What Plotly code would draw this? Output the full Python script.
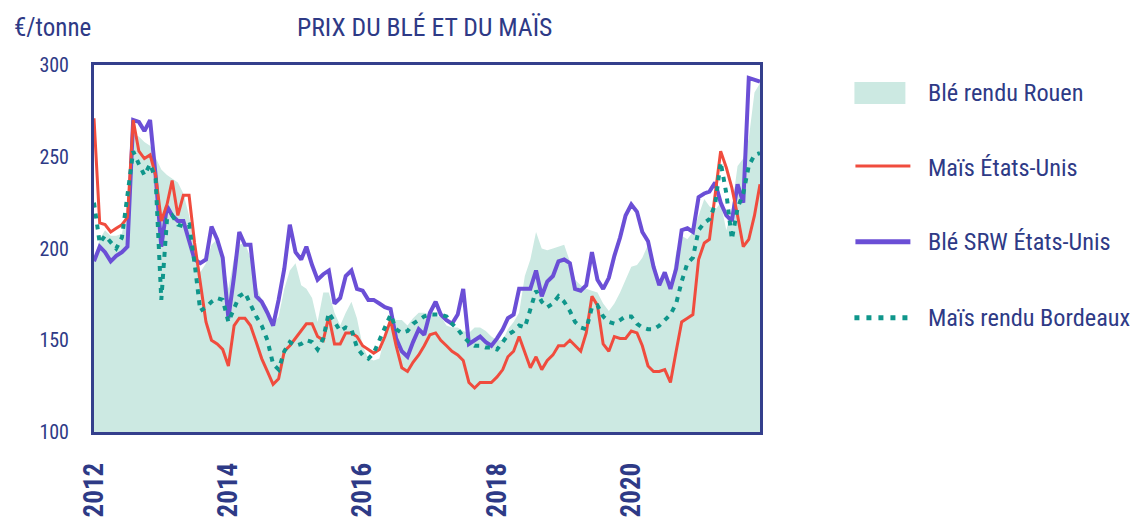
import pandas as pd
import plotly.graph_objects as go

dates = pd.date_range("2012-01-01", periods=120, freq="MS")

ble_rouen = [193, 205, 210, 207, 207, 208, 225, 262, 261, 258, 256, 250,
             243, 240, 238, 236, 230, 218, 202, 187, 192, 202, 205, 196,
             178, 195, 202, 203, 195, 180, 172, 168, 158, 163, 178, 188,
             192, 180, 178, 173, 160, 176, 176, 165, 158, 165, 171, 162,
             147, 140, 139, 140, 152, 163, 161, 161, 158, 162, 165, 165,
             164, 163, 163, 158, 157, 157, 155, 154, 157, 157, 155, 152,
             150, 150, 156, 160, 165, 185, 194, 209, 200, 199, 200, 201,
             202, 193, 183, 180, 178, 177, 176, 170, 166, 170, 176, 183,
             190, 191, 195, 202, 194, 182, 187, 177, 198, 207, 205, 209,
             218, 227, 223, 221, 225, 210, 222, 245, 249, 260, 285, 290]

mais_us = [271, 214, 213, 209, 211, 213, 217, 270, 253, 249, 251, 240,
           215, 224, 237, 218, 229, 229, 203, 180, 160, 150, 148, 145,
           136, 158, 162, 162, 158, 149, 140, 133, 126, 129, 144, 147,
           151, 155, 159, 159, 152, 150, 163, 148, 148, 154, 154, 152,
           147, 145, 143, 145, 152, 161, 147, 135, 133, 138, 142, 147,
           153, 154, 150, 147, 144, 142, 139, 127, 124, 127, 127, 127,
           130, 134, 141, 144, 152, 143, 135, 141, 134, 139, 142, 147,
           147, 150, 147, 144, 154, 174, 169, 148, 144, 152, 151, 151,
           155, 154, 147, 136, 133, 133, 134, 127, 144, 160, 162, 164,
           194, 203, 205, 229, 253, 244, 233, 218, 201, 205, 218, 235]

ble_srw = [193, 201, 198, 193, 196, 198, 201, 270, 269, 264, 270, 240,
           201, 223, 218, 215, 215, 205, 194, 192, 194, 212, 205, 195,
           162, 185, 209, 202, 202, 174, 171, 165, 158, 172, 189, 213,
           198, 194, 201, 191, 183, 186, 188, 170, 173, 185, 188, 178,
           177, 172, 172, 170, 168, 167, 151, 144, 141, 149, 156, 153,
           165, 171, 164, 161, 159, 164, 178, 148, 150, 152, 149, 147,
           151, 156, 162, 164, 178, 178, 178, 188, 174, 182, 185, 193,
           194, 192, 178, 177, 180, 198, 183, 178, 184, 196, 206, 218,
           224, 220, 209, 204, 190, 180, 187, 178, 189, 210, 211, 209,
           228, 230, 231, 236, 225, 218, 215, 235, 225, 293, 292, 291]

mais_bordeaux = [225, 203, 207, 203, 200, 206, 230, 253, 246, 240, 246, 238,
                 172, 216, 218, 213, 212, 213, 192, 166, 168, 171, 173, 172,
                 160, 167, 174, 176, 169, 163, 158, 150, 137, 134, 144, 149,
                 147, 148, 150, 149, 145, 151, 165, 160, 155, 157, 156, 146,
                 142, 140, 143, 150, 157, 164, 156, 154, 155, 159, 161, 163,
                 164, 164, 164, 163, 159, 156, 152, 149, 147, 147, 146, 146,
                 145, 149, 153, 155, 158, 157, 166, 177, 171, 168, 170, 174,
                 171, 166, 160, 157, 156, 168, 169, 163, 160, 159, 161, 163,
                 163, 159, 157, 156, 156, 158, 161, 164, 170, 182, 192, 195,
                 210, 214, 216, 224, 247, 230, 205, 222, 230, 245, 251, 252]

series_names = ["Blé rendu Rouen", "Maïs États-Unis", "Blé SRW États-Unis", "Maïs rendu Bordeaux"]
year_ticks = ["2012", "2014", "2016", "2018", "2020"]
y_ticks = [100, 150, 200, 250, 300]

C_AREA = "#cce9e2"
C_RED = "#f04c3e"
C_PURPLE = "#6b4fd6"
C_TEAL = "#0f968b"
C_TEXT = "#2e3a86"
C_BORDER = "#343f8c"
FONT = "Liberation Sans Narrow, Arial Narrow, Roboto Condensed, Liberation Sans, sans-serif"

fig = go.Figure()
fig.add_trace(go.Scatter(x=dates, y=ble_rouen, name=series_names[0], mode="lines",
                         line=dict(width=0, color=C_AREA), fill="tozeroy", fillcolor=C_AREA,
                         showlegend=False))
fig.add_trace(go.Scatter(x=dates, y=ble_srw, name=series_names[2], mode="lines",
                         line=dict(width=4, color=C_PURPLE), showlegend=False))
fig.add_trace(go.Scatter(x=dates, y=mais_us, name=series_names[1], mode="lines",
                         line=dict(width=3, color=C_RED), showlegend=False))
fig.add_trace(go.Scatter(x=dates, y=mais_bordeaux, name=series_names[3], mode="lines",
                         line=dict(width=4, color=C_TEAL, dash="5px,6px"), showlegend=False))

# page body has an 8px margin: figure drawn at (8, 8)
OFF = 8
W, H = 1138 - OFF, 520 - OFF
L, T = 94 - OFF, 65 - OFF
R = W - (760.5 - OFF)
B = H - (432.3 - OFF)
pw, ph = W - L - R, H - T - B


def px(xp):
    return (xp - OFF - L) / pw


def py(yp):
    return (H - B - (yp - OFF)) / ph


fig.update_layout(
    width=W, height=H,
    margin=dict(l=L, r=R, t=T, b=B, autoexpand=False),
    plot_bgcolor="white", paper_bgcolor="white",
    font=dict(family=FONT, color=C_TEXT, size=22),
    xaxis=dict(type="date", range=["2012-01-01", "2021-12-01"],
               tickvals=[f"{y}-01-01" for y in year_ticks], ticktext=year_ticks,
               tickangle=-90, tickfont=dict(size=27, weight="bold", color=C_TEXT),
               showgrid=False, zeroline=False, showline=True, mirror=True,
               linecolor=C_BORDER, linewidth=3, ticks="", ticklabelstandoff=17,
               automargin=False),
    yaxis=dict(range=[100, 300], tickvals=y_ticks,
               tickfont=dict(size=20, color=C_TEXT),
               showgrid=False, zeroline=False, showline=True, mirror=True,
               linecolor=C_BORDER, linewidth=3, ticks="", ticklabelstandoff=18,
               automargin=False),
    showlegend=False,
)

annos = [
    dict(text="€/tonne", x=px(12), y=py(27), xanchor="left", yanchor="middle", font=dict(size=25)),
    dict(text="PRIX DU BLÉ ET DU MAÏS", x=px(425), y=py(27), xanchor="center", yanchor="middle", font=dict(size=25.7)),
]
leg_y = [93, 168, 242, 318]
for name, yy in zip(series_names, leg_y):
    annos.append(dict(text=name, x=px(927), y=py(yy), xanchor="left", yanchor="middle", font=dict(size=24.3)))
for a in annos:
    a.update(xref="paper", yref="paper", showarrow=False)
fig.update_layout(annotations=annos)

shapes = [
    dict(type="rect", x0=px(855), x1=px(906), y0=py(104), y1=py(82), fillcolor=C_AREA, line=dict(width=0)),
    dict(type="line", x0=px(856), x1=px(911), y0=py(166), y1=py(166), line=dict(color=C_RED, width=3)),
    dict(type="line", x0=px(856), x1=px(911), y0=py(242), y1=py(242), line=dict(color=C_PURPLE, width=5)),
    dict(type="line", x0=px(855), x1=px(912), y0=py(318), y1=py(318), line=dict(color=C_TEAL, width=5, dash="5px,7px")),
]
for s in shapes:
    s.update(xref="paper", yref="paper")
fig.update_layout(shapes=shapes)

fig.write_html("out.html")
